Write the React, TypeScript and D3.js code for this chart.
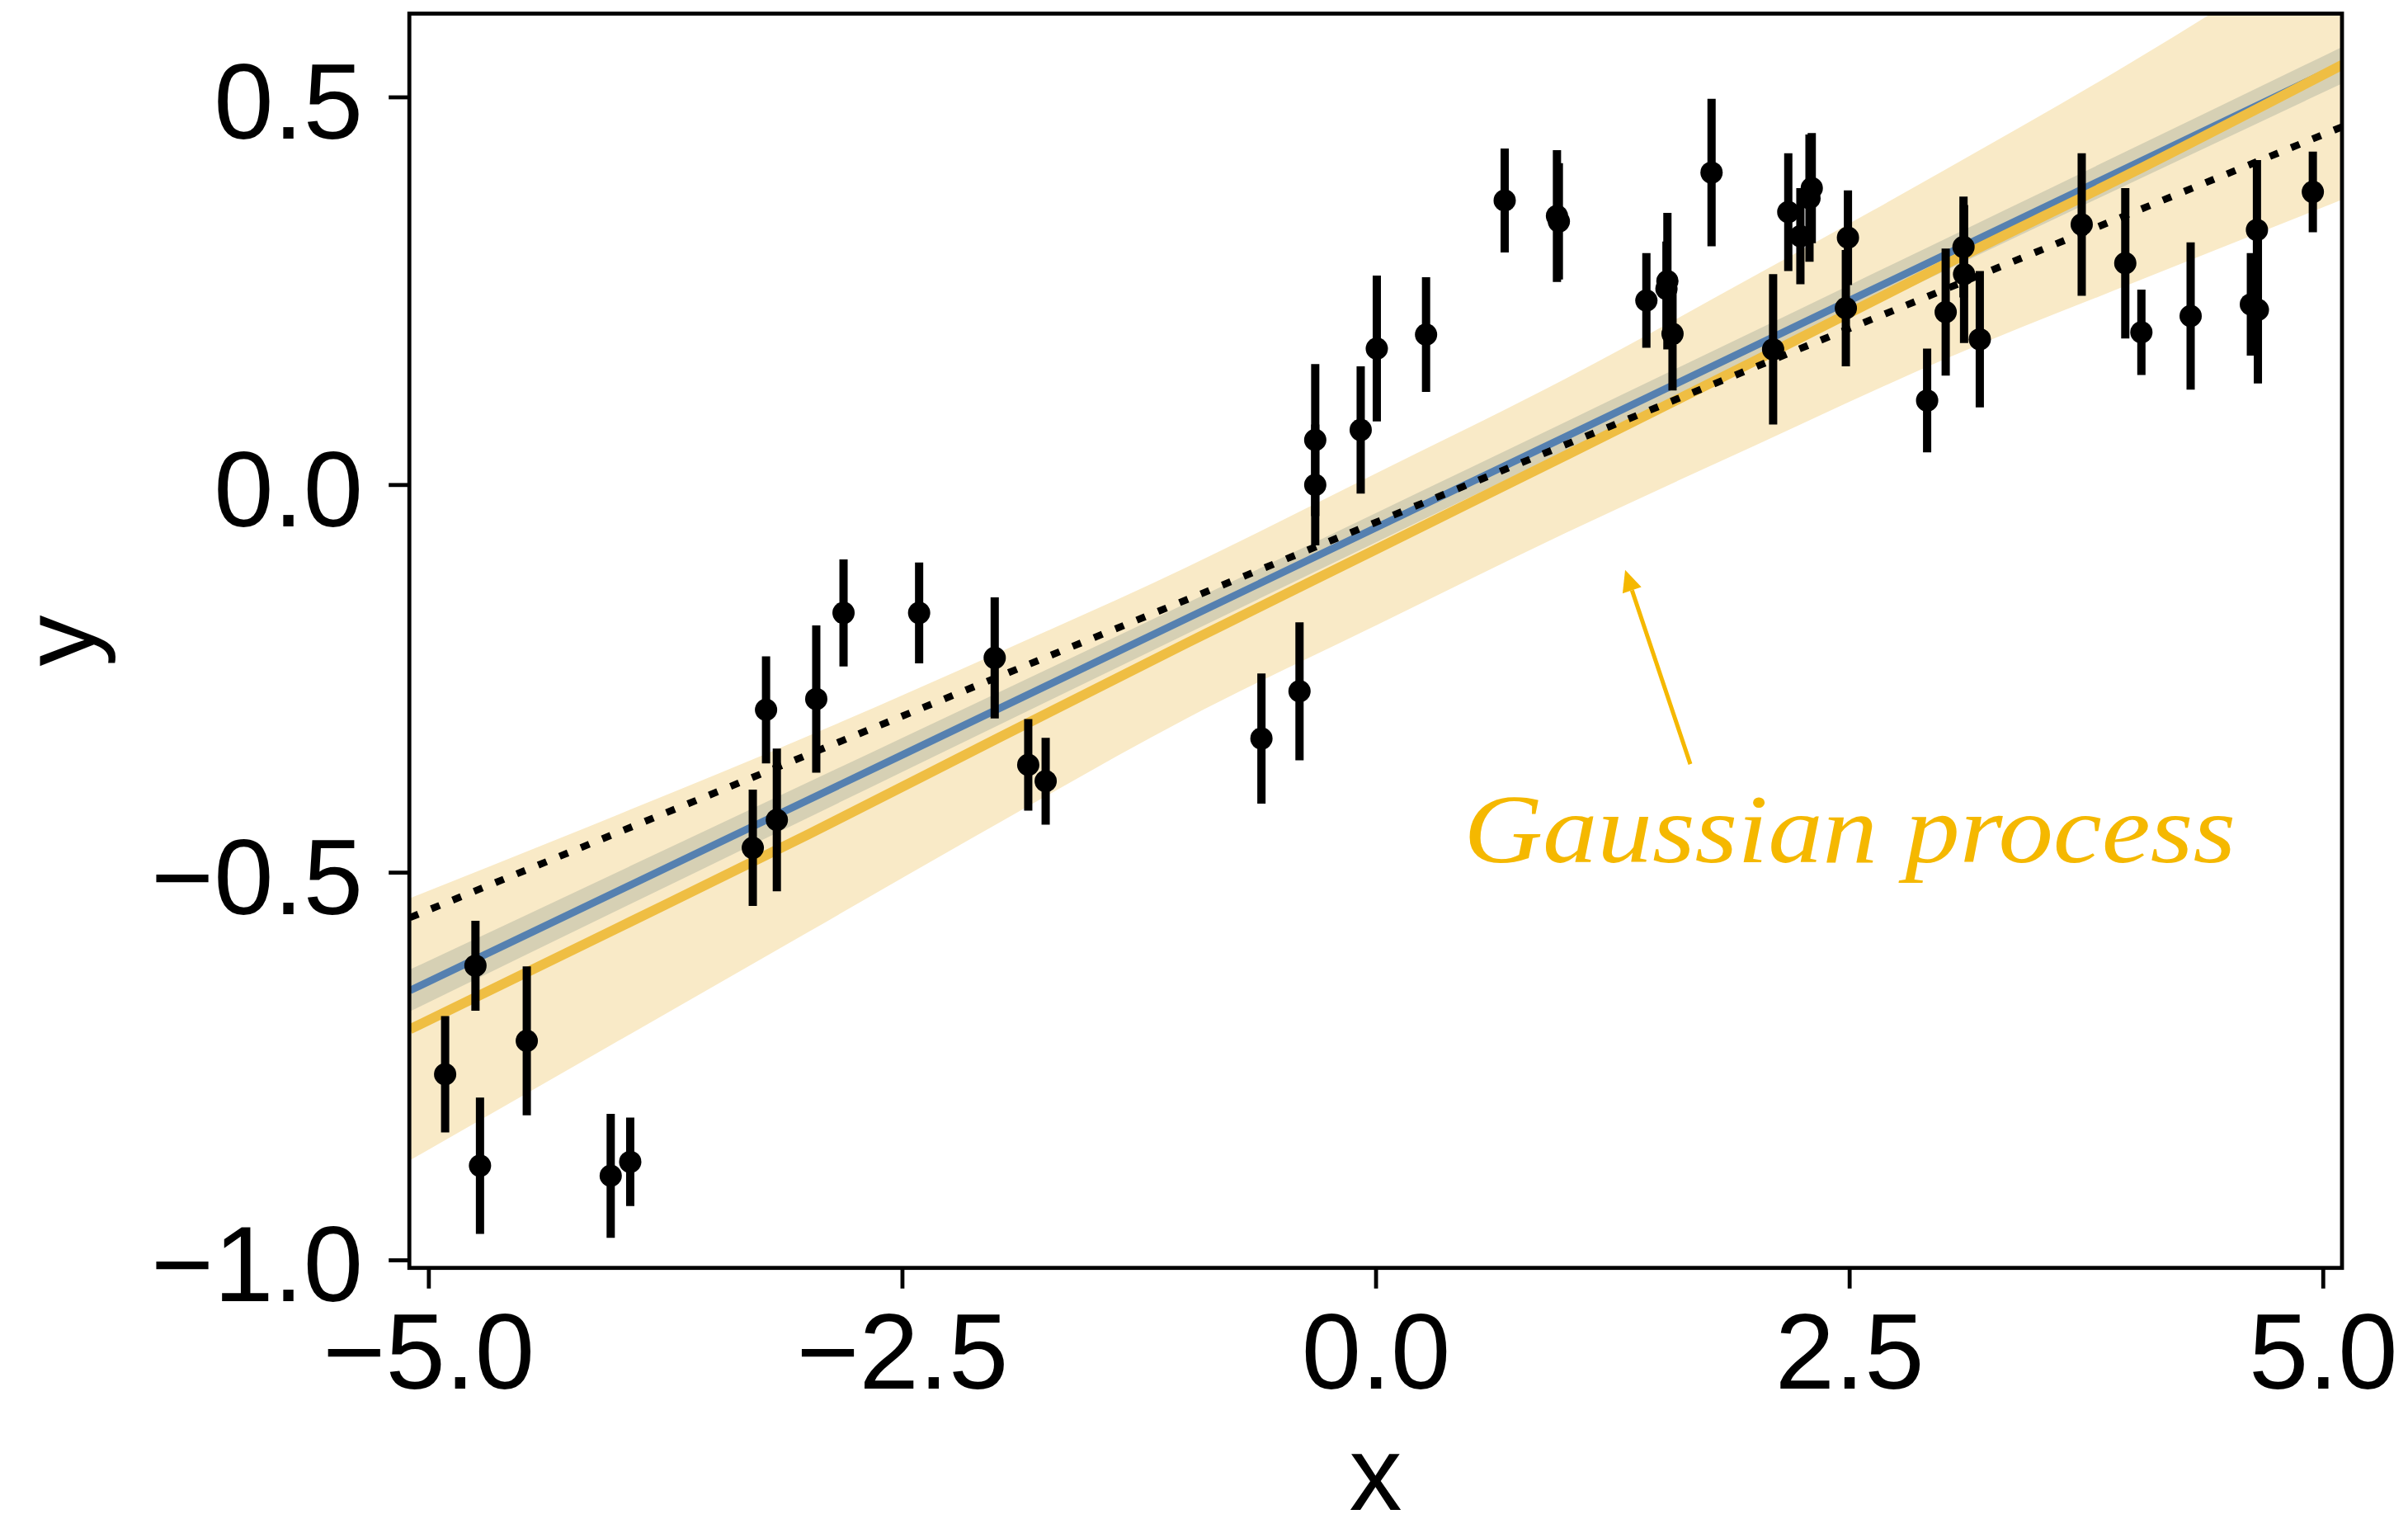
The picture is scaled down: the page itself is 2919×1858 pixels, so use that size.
import React from 'react';
import * as d3 from 'd3';

const W = 2919;
const H = 1858;

// Observations with 1-sigma uncertainties
const obsX = [
  -4.914, -4.754, -4.73, -4.483, -4.04, -3.937, -3.29, -3.22, -3.163, -2.955,
  -2.811, -2.412, -2.013, -1.836, -1.744, -0.605, -0.404, -0.321, -0.321, -0.081,
  0.004, 0.264, 0.679, 0.955, 0.965, 1.427, 1.533, 1.538, 1.565, 1.771,
  2.096, 2.176, 2.24, 2.288, 2.3, 2.48, 2.491, 2.909, 3.007, 3.101,
  3.104, 3.187, 3.725, 3.955, 4.04, 4.3, 4.618, 4.65, 4.655, 4.945,
];
const obsY = [
  -0.76, -0.62, -0.878, -0.717, -0.891, -0.873, -0.468, -0.29, -0.432, -0.276,
  -0.165, -0.165, -0.223, -0.361, -0.382, -0.327, -0.266, 0.0, 0.058, 0.071,
  0.176, 0.194, 0.367, 0.347, 0.34, 0.238, 0.253, 0.263, 0.195, 0.403,
  0.175, 0.352, 0.321, 0.37, 0.383, 0.228, 0.319, 0.109, 0.223, 0.307,
  0.272, 0.188, 0.336, 0.286, 0.197, 0.218, 0.233, 0.329, 0.226, 0.378,
];
const obsErr = [
  0.075, 0.058, 0.088, 0.096, 0.08, 0.057, 0.075, 0.069, 0.092, 0.095,
  0.069, 0.065, 0.078, 0.059, 0.056, 0.084, 0.089, 0.078, 0.098, 0.082,
  0.094, 0.074, 0.067, 0.085, 0.075, 0.061, 0.061, 0.088, 0.073, 0.095,
  0.097, 0.076, 0.062, 0.082, 0.071, 0.075, 0.061, 0.067, 0.082, 0.065,
  0.089, 0.088, 0.092, 0.097, 0.055, 0.095, 0.066, 0.09, 0.095, 0.052,
];

// Gaussian process posterior: mean and 2-sigma envelope
const gpX = [-5.1, -4, -3, -2, -1, 0, 1, 2, 3, 4, 5.1];
const gpMean = [-0.702, -0.571, -0.451, -0.327, -0.204, -0.083, 0.038, 0.16, 0.284, 0.404, 0.542];
const gpLower = [-0.871, -0.717, -0.577, -0.437, -0.301, -0.181, -0.062, 0.051, 0.162, 0.261, 0.368];
const gpUpper = [-0.533, -0.425, -0.324, -0.217, -0.106, 0.015, 0.137, 0.27, 0.406, 0.547, 0.715];

// Straight-line least-squares fit with its confidence band
const fitX = [-5.1, -2.5, 0, 2.5, 5.1];
const fitMean = [-0.652, -0.348, -0.055, 0.238, 0.542];
const fitLower = [-0.679, -0.37, -0.074, 0.218, 0.518];
const fitUpper = [-0.625, -0.326, -0.036, 0.258, 0.565];

// True underlying relation (dotted)
const trueX = [-5.1, 5.1];
const trueY = [-0.558, 0.462];

// Axis ticks
const xTicks = [-5, -2.5, 0, 2.5, 5];
const yTicks = [-1, -0.5, 0, 0.5];

// Annotation (data coordinates)
const noteText = 'Gaussian process';
const noteAt: [number, number] = [0.462, -0.4865];
const arrowFrom: [number, number] = [1.659, -0.36];
const arrowTo: [number, number] = [1.315, -0.1095];

const C = {
  band: '#F9EAC7',
  fitBand: '#D6D0B4',
  blue: '#5580B0',
  gold: '#EFBE43',
  note: '#F5B800',
  ink: '#000000',
};

const PLOT = { left: 496.2, right: 2839, top: 16.5, bottom: 1536.7 };

export default function App() {
  const x = d3.scaleLinear().domain([-5.103, 5.099]).range([PLOT.left, PLOT.right]);
  const y = d3.scaleLinear().domain([-1.0098, 0.608]).range([PLOT.bottom, PLOT.top]);
  const fmt = d3.format('.1f');

  const gpArea = d3
    .area<number>()
    .x((_, i) => x(gpX[i]))
    .y0((_, i) => y(gpLower[i]))
    .y1((_, i) => y(gpUpper[i]))
    .curve(d3.curveMonotoneX)(gpX) as string;
  const gpLine = d3
    .line<number>()
    .x((_, i) => x(gpX[i]))
    .y((_, i) => y(gpMean[i]))
    .curve(d3.curveMonotoneX)(gpX) as string;

  const fitArea = d3
    .area<number>()
    .x((_, i) => x(fitX[i]))
    .y0((_, i) => y(fitLower[i]))
    .y1((_, i) => y(fitUpper[i]))
    .curve(d3.curveMonotoneX)(fitX) as string;
  const fitLine = d3
    .line<number>()
    .x((_, i) => x(fitX[i]))
    .y((_, i) => y(fitMean[i]))(fitX) as string;

  const trueLine = d3
    .line<number>()
    .x((_, i) => x(trueX[i]))
    .y((_, i) => y(trueY[i]))(trueX) as string;

  // arrow geometry in pixels
  const ax0 = x(arrowFrom[0]);
  const ay0 = y(arrowFrom[1]);
  const ax1 = x(arrowTo[0]);
  const ay1 = y(arrowTo[1]);
  const len = Math.hypot(ax1 - ax0, ay1 - ay0);
  const ux = (ax1 - ax0) / len;
  const uy = (ay1 - ay0) / len;
  const headL = 26;
  const headW = 12;
  const bx = ax1 - ux * headL;
  const by = ay1 - uy * headL;
  const head = `M${ax1},${ay1} L${bx - uy * headW},${by + ux * headW} L${bx + uy * headW},${by - ux * headW} Z`;

  const font = "'Liberation Sans', Arial, sans-serif";

  return (
    <svg
      width={W}
      height={H}
      viewBox={`0 0 ${W} ${H}`}
      style={{ position: 'absolute', left: 0, top: 0, background: '#fff' }}
    >
      <defs>
        <clipPath id="plotClip">
          <rect x={PLOT.left} y={PLOT.top} width={PLOT.right - PLOT.left} height={PLOT.bottom - PLOT.top} />
        </clipPath>
      </defs>
      <rect x={0} y={0} width={W} height={H} fill="#fff" />

      <g clipPath="url(#plotClip)">
        <path d={gpArea} fill={C.band} />
        <path d={fitArea} fill={C.fitBand} />
        <path d={fitLine} fill="none" stroke={C.blue} strokeWidth={9} />
        <path d={gpLine} fill="none" stroke={C.gold} strokeWidth={12} />
        <path d={trueLine} fill="none" stroke={C.ink} strokeWidth={8.5} strokeDasharray="11 17" />
        {obsX.map((v, i) => (
          <line
            key={`e${i}`}
            x1={x(v)}
            x2={x(v)}
            y1={y(obsY[i] - obsErr[i])}
            y2={y(obsY[i] + obsErr[i])}
            stroke={C.ink}
            strokeWidth={10}
          />
        ))}
        {obsX.map((v, i) => (
          <circle key={`p${i}`} cx={x(v)} cy={y(obsY[i])} r={13.5} fill={C.ink} />
        ))}
      </g>

      {/* annotation */}
      <line x1={ax0} y1={ay0} x2={bx} y2={by} stroke={C.note} strokeWidth={5} />
      <path d={head} fill={C.note} />
      <text
        x={x(noteAt[0])}
        y={y(noteAt[1])}
        fill={C.note}
        fontFamily="'Liberation Serif', serif"
        fontStyle="italic"
        fontSize={118}
        textLength={936}
        lengthAdjust="spacingAndGlyphs"
      >
        {noteText}
      </text>

      {/* frame */}
      <rect
        x={PLOT.left}
        y={PLOT.top}
        width={PLOT.right - PLOT.left}
        height={PLOT.bottom - PLOT.top}
        fill="none"
        stroke={C.ink}
        strokeWidth={4.8}
      />

      {/* x axis */}
      {xTicks.map((t) => (
        <g key={`xt${t}`}>
          <line x1={x(t)} x2={x(t)} y1={PLOT.bottom} y2={PLOT.bottom + 25} stroke={C.ink} strokeWidth={4.8} />
          <text x={x(t)} y={1683} textAnchor="middle" fontFamily={font} fontSize={130} fill={C.ink}>
            {fmt(t)}
          </text>
        </g>
      ))}
      {/* y axis */}
      {yTicks.map((t) => (
        <g key={`yt${t}`}>
          <line x1={PLOT.left - 25} x2={PLOT.left} y1={y(t)} y2={y(t)} stroke={C.ink} strokeWidth={4.8} />
          <text x={440} y={y(t) + 50} textAnchor="end" fontFamily={font} fontSize={130} fill={C.ink}>
            {fmt(t)}
          </text>
        </g>
      ))}

      <text x={(PLOT.left + PLOT.right) / 2} y={1830} textAnchor="middle" fontFamily={font} fontSize={128} fill={C.ink}>
        x
      </text>
      <text
        transform={`translate(114, ${(PLOT.top + PLOT.bottom) / 2}) rotate(-90)`}
        textAnchor="middle"
        fontFamily={font}
        fontSize={124}
        fill={C.ink}
      >
        y
      </text>
    </svg>
  );
}
